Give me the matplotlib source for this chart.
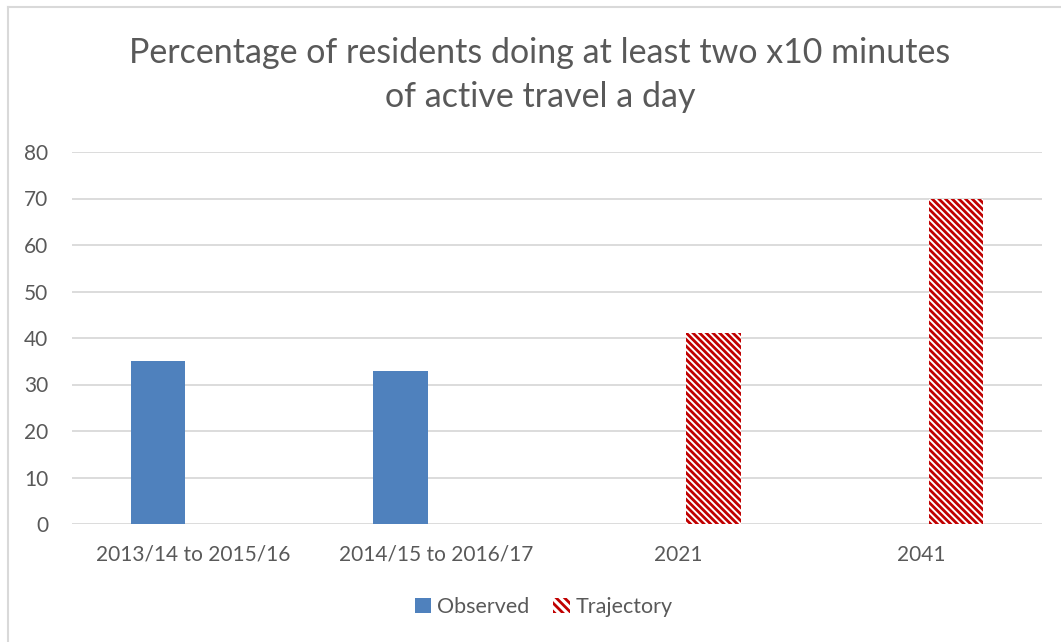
import numpy as np
import matplotlib
matplotlib.use("Agg")
import matplotlib.pyplot as plt
from matplotlib.patches import Patch
from matplotlib.lines import Line2D

categories = ["2013/14 to 2015/16", "2014/15 to 2016/17", "2021", "2041"]
observed = [35, 33, 0, 0]
trajectory = [0, 0, 41, 70]
title = "Percentage of residents doing at least two x10 minutes\nof active travel a day"

plt.rcParams['font.family'] = ['Lato', 'DejaVu Sans']
plt.rcParams['hatch.linewidth'] = 2.0

text_gray = '#595959'
grid_gray = '#D9D9D9'
blue = '#4F81BD'
red = '#C00000'
hatch = '\\' * 5

fig = plt.figure(figsize=(10.61, 6.42), dpi=100)
ax = fig.add_axes([72 / 1061, 118 / 642, 970 / 1061, 372 / 642])

x = np.arange(len(categories))
width = 0.224
offset = 0.145

ax.bar(x - offset, observed, width, color=blue, edgecolor='none', zorder=3)
ax.bar(x + offset, trajectory, width, color='white', edgecolor=red,
       linewidth=0, hatch=hatch, zorder=3)

ax.set_xlim(-0.5, len(categories) - 0.5)
ax.set_ylim(0, 80)
ax.set_yticks(np.arange(0, 81, 10))
ax.set_xticks(x)
ax.set_xticklabels(categories)
ax.tick_params(length=0, labelsize=15, colors=text_gray)
ax.tick_params(axis='x', pad=15)
ax.tick_params(axis='y', pad=17)
ax.grid(axis='y', color=grid_gray, linewidth=1.3, zorder=0)
for s in ax.spines.values():
    s.set_visible(False)

fig.text(540 / 1061, 1 - 75 / 642, title, ha='center', va='center',
         fontsize=24.5, color=text_gray, linespacing=1.45)

handles = [Patch(facecolor=blue, edgecolor='none', label='Observed'),
           Patch(facecolor='white', edgecolor=red, linewidth=0,
                 hatch='\\\\\\\\', label='Trajectory')]
fig.legend(handles=handles, loc='center', bbox_to_anchor=(544 / 1061, 35 / 642),
           ncol=2, frameon=False, fontsize=15.5, labelcolor=text_gray,
           handlelength=0.75, handleheight=0.75, handletextpad=0.3,
           columnspacing=1.1)

# chart area border (top and left visible)
fig.add_artist(Line2D([8 / 1061, 8 / 1061], [0, 1 - 7 / 642],
                      color=grid_gray, linewidth=1.5))
fig.add_artist(Line2D([8 / 1061, 1], [1 - 7 / 642, 1 - 7 / 642],
                      color=grid_gray, linewidth=1.5))

fig.savefig("out.png", dpi=100, facecolor='white')
